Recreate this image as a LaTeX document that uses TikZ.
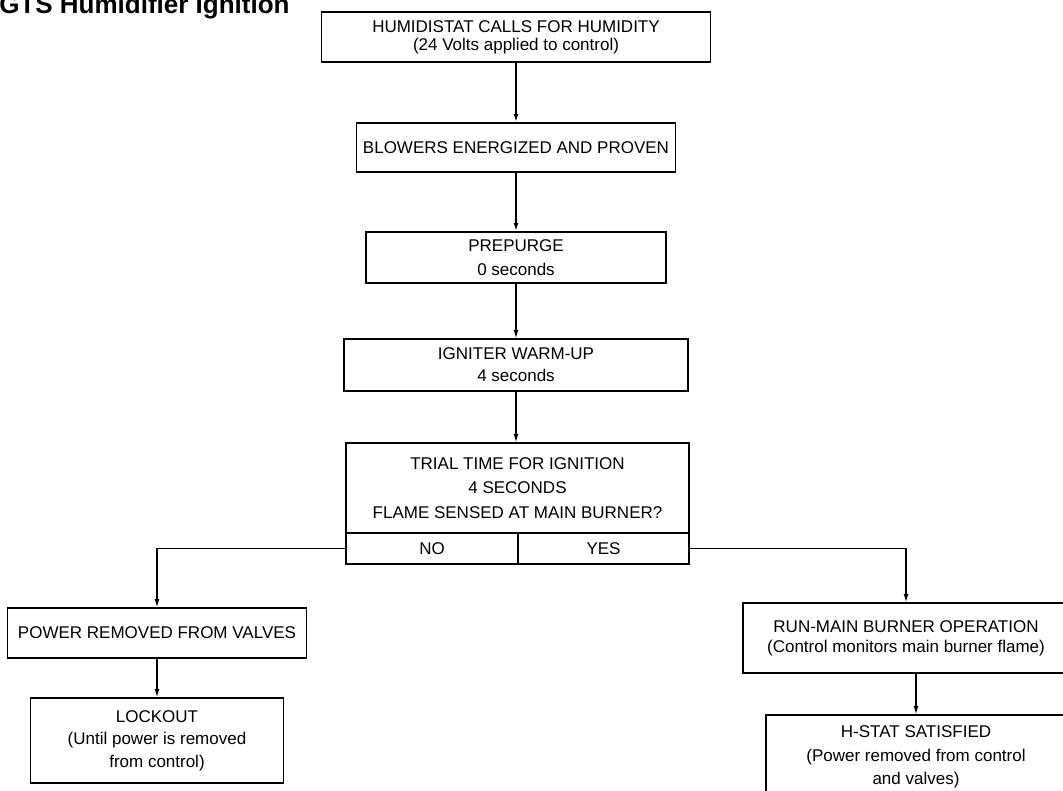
\documentclass[tikz,border=0pt]{standalone}
\usepackage{fontspec}
\setmainfont{Liberation Sans}
\usetikzlibrary{arrows.meta}
\begin{document}
\begin{tikzpicture}[x=0.75pt,y=-0.75pt,
  box/.style={draw,line width=1.3pt,inner sep=0pt,align=center,font=\fontsize{12.75pt}{16.5pt}\selectfont},
  gap/.style={font=\fontsize{12.75pt}{#1}\selectfont},
  arr/.style={line width=0.8pt,-{Latex[length=6pt,width=3.6pt]}},
  heavy/.style={arr,line width=1.4pt}]
  \clip (0,0) rectangle (1063,790);
  \node[anchor=base west,inner sep=0pt,font=\bfseries\fontsize{19.5pt}{22pt}\selectfont] (title) at (-1,13) {GTS Humidifier Ignition};
  \node[box,gap=13.5pt,minimum width=291.75pt,minimum height=37.5pt] (hum) at (516,37) {HUMIDISTAT CALLS FOR HUMIDITY\\(24 Volts applied to control)};
  \node[box,minimum width=239.25pt,minimum height=36.75pt] (blow) at (516,147.5) {BLOWERS ENERGIZED AND PROVEN};
  \node[box,gap=18pt,minimum width=225pt,minimum height=38.25pt] (pre) at (516,257.5) {PREPURGE\\0 seconds};
  \node[box,gap=16.5pt,minimum width=258pt,minimum height=39pt] (ign) at (516,365) {IGNITER WARM-UP\\4 seconds};
  \node[box,gap=18.4pt,minimum width=257.25pt,minimum height=67.5pt] (trial) at (517.5,488) {TRIAL TIME FOR IGNITION\\4 SECONDS\\FLAME SENSED AT MAIN BURNER?};
  \node[box,minimum width=129pt,minimum height=23.25pt] (no) at (432,548.5) {NO};
  \node[box,minimum width=128.25pt,minimum height=23.25pt] (yes) at (603.5,548.5) {YES};
  \node[box,minimum width=224.25pt,minimum height=37.5pt] (power) at (157,633) {POWER REMOVED FROM VALVES};
  \node[box,gap=16.9pt,minimum width=189.75pt,minimum height=63.75pt] (lock) at (157,740.5) {LOCKOUT\\(Until power is removed\\from control)};
  \node[box,gap=15pt,minimum width=244.5pt,minimum height=52.5pt] (run) at (906,638) {RUN-MAIN BURNER OPERATION\\(Control monitors main burner flame)};
  \node[box,gap=17.6pt,minimum width=225pt,minimum height=63pt] (hstat) at (916,757) {H-STAT SATISFIED\\(Power removed from control\\and valves)};
  \draw[heavy] (hum) -- (blow);
  \draw[heavy] (blow) -- (pre);
  \draw[arr] (pre) -- (ign);
  \draw[arr] (ign.south) -- (ign.south |- trial.north);
  \draw[arr] (no.west) -| (power.north);
  \draw[arr] (power) -- (lock);
  \draw[arr] (yes.east) -| (run.north);
  \draw[arr] (run.south -| hstat.north) -- (hstat.north);
\end{tikzpicture}
\end{document}
